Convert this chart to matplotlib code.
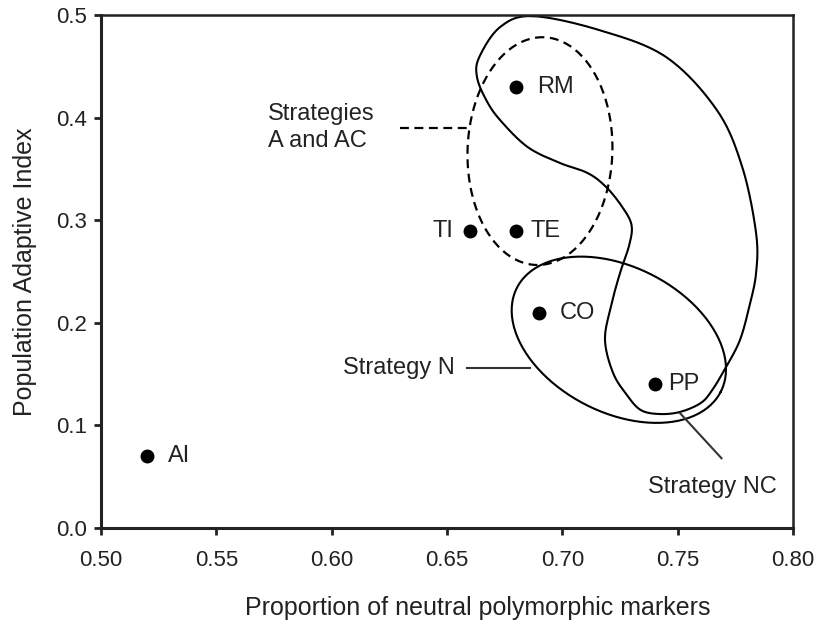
import numpy as np
import matplotlib.pyplot as plt

plt.rcParams['font.family'] = ['Liberation Sans', 'DejaVu Sans']

# populations
names = ['AI', 'TI', 'TE', 'RM', 'CO', 'PP']
neutral = [0.52, 0.66, 0.68, 0.68, 0.69, 0.74]
adaptive = [0.07, 0.29, 0.29, 0.43, 0.21, 0.14]

x_ticks = [0.50, 0.55, 0.60, 0.65, 0.70, 0.75, 0.80]
y_ticks = [0.0, 0.1, 0.2, 0.3, 0.4, 0.5]

# outline of the Strategy NC region
nc_x = [0.687, 0.716, 0.745, 0.767, 0.778, 0.784, 0.784, 0.781, 0.777, 0.771,
        0.765, 0.760, 0.751, 0.742, 0.734, 0.728, 0.722, 0.7185, 0.721, 0.725,
        0.729, 0.730, 0.726, 0.719, 0.711, 0.699, 0.685, 0.673, 0.667, 0.663,
        0.664, 0.673]
nc_y = [0.499, 0.4854, 0.4591, 0.4074, 0.3519, 0.2875, 0.2485, 0.2154, 0.1832,
        0.1569, 0.1345, 0.1218, 0.1131, 0.1111, 0.1150, 0.1296, 0.1511, 0.1832,
        0.2154, 0.2485, 0.2758, 0.2953, 0.3129, 0.3324, 0.3460, 0.3558, 0.3713,
        0.3977, 0.4172, 0.4396, 0.4591, 0.4883]

# ellipses: centre x, centre y, semi axes (in x units), angle in degrees
a_ell = (0.6903, 0.3674, 0.0494, 0.0314, 88)
n_ell = (0.7245, 0.1835, 0.0496, 0.0316, -27)

# y units per x unit on screen
ASPECT = (0.5 / 513) / (0.3 / 692)


def ellipse_pts(cx, cy, a, b, ang, n=200):
    t = np.linspace(0, 2 * np.pi, n)
    th = np.radians(ang)
    u = a * np.cos(t) * np.cos(th) - b * np.sin(t) * np.sin(th)
    v = a * np.cos(t) * np.sin(th) + b * np.sin(t) * np.cos(th)
    return cx + u, cy + v * ASPECT


def closed_spline(xs, ys, steps=20):
    # closed Catmull-Rom curve through the points
    p = np.column_stack([xs, np.array(ys) / ASPECT])
    n = len(p)
    out = []
    for i in range(n):
        p0, p1, p2, p3 = p[i - 1], p[i], p[(i + 1) % n], p[(i + 2) % n]
        for t in np.linspace(0, 1, steps, endpoint=False):
            t2, t3 = t * t, t * t * t
            out.append(0.5 * (2 * p1 + (-p0 + p2) * t
                              + (2 * p0 - 5 * p1 + 4 * p2 - p3) * t2
                              + (-p0 + 3 * p1 - 3 * p2 + p3) * t3))
    out.append(out[0])
    out = np.array(out)
    return out[:, 0], out[:, 1] * ASPECT


fig = plt.figure(figsize=(8.16, 6.29), dpi=100)
ax = fig.add_axes([0.1238, 0.1606, 0.848, 0.8154])

ax.plot(neutral, adaptive, 'o', color='black', ms=9)

offsets = {'AI': (15, 0), 'TI': (-12, 0), 'TE': (10, 0), 'RM': (15, 0),
           'CO': (15, 0), 'PP': (10, 0)}
for nm, x, y in zip(names, neutral, adaptive):
    dx, dy = offsets[nm]
    ax.annotate(nm, (x, y), xytext=(dx, dy), textcoords='offset points',
                ha='right' if dx < 0 else 'left', va='center',
                fontsize=17, color='#222222')

ex, ey = ellipse_pts(*a_ell)
ax.plot(ex, ey, '--', color='black', lw=1.6, dashes=(4, 2.5))
ex, ey = ellipse_pts(*n_ell)
ax.plot(ex, ey, '-', color='black', lw=1.5)
kx, ky = closed_spline(nc_x, nc_y)
ax.plot(kx, ky, '-', color='black', lw=1.5, clip_on=False)

# labels with leader lines
ax.plot([0.6296, 0.6587], [0.39, 0.39], '--', color='black', lw=1.6,
        dashes=(4, 2.5))
ax.text(0.5724, 0.39, 'Strategies\nA and AC', ha='left', va='center',
        fontsize=17, color='#222222', linespacing=1.3)
ax.plot([0.6587, 0.6859], [0.156, 0.156], '-', color='#333333', lw=1.5)
ax.text(0.6535, 0.156, 'Strategy N', ha='right', va='center',
        fontsize=17, color='#222222')
ax.plot([0.751, 0.769], [0.112, 0.068], '-', color='#333333', lw=1.5)
ax.text(0.737, 0.040, 'Strategy NC', ha='left', va='center',
        fontsize=17, color='#222222')

ax.set_xlim(0.5, 0.8)
ax.set_ylim(0.0, 0.5)
ax.set_xticks(x_ticks)
ax.set_xticklabels(['%.2f' % v for v in x_ticks])
ax.set_yticks(y_ticks)
ax.set_yticklabels(['%.1f' % v for v in y_ticks])
ax.tick_params(direction='out', length=5, width=2, labelsize=16,
               colors='#222222')
ax.tick_params(axis='x', pad=11)
ax.tick_params(axis='y', pad=5)

for side in ['left', 'bottom']:
    ax.spines[side].set_linewidth(2.2)
for side in ['top', 'right']:
    ax.spines[side].set_linewidth(1.8)
for sp in ax.spines.values():
    sp.set_color('#222222')

ax.set_xlabel('Proportion of neutral polymorphic markers', fontsize=18,
              color='#222222', labelpad=18)
ax.xaxis.label.set_x(0.545)
ax.set_ylabel('Population Adaptive Index', fontsize=18, color='#222222',
              labelpad=14)

fig.savefig('out.png', dpi=100)
